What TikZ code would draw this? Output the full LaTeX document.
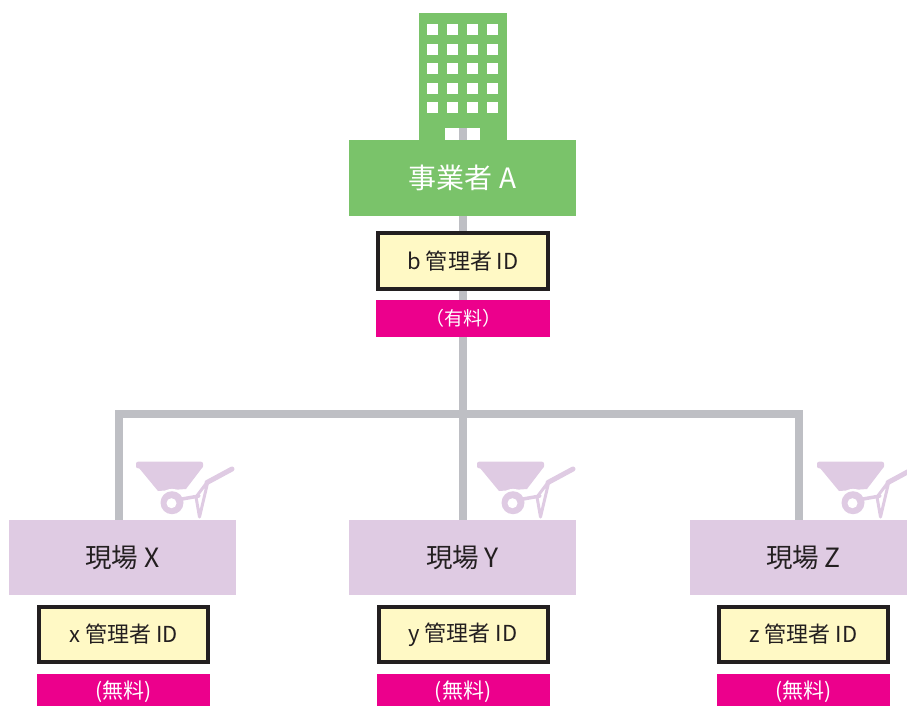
\documentclass[tikz,border=0pt]{standalone}
\usepackage{fontspec}
\setmainfont{Noto Sans CJK JP}
\definecolor{bgreen}{HTML}{7AC36A}
\definecolor{lgray}{HTML}{BEBFC4}
\definecolor{lav}{HTML}{DFCBE3}
\definecolor{idfill}{HTML}{FFF9C5}
\definecolor{pinkc}{HTML}{EC008C}
\definecolor{txt}{HTML}{231F20}
\tikzset{
  conn/.style={draw=lgray, line width=7.5pt, line join=miter},
  bizbox/.style={fill=bgreen, inner sep=0, minimum width=227pt, minimum height=76pt, text=white, font=\fontsize{28}{32}\selectfont},
  sitebox/.style={fill=lav, inner sep=0, minimum width=227pt, minimum height=75pt, text=txt, font=\fontsize{26.5}{30}\selectfont},
  idbox/.style={fill=idfill, draw=txt, line width=4pt, inner sep=0, minimum width=170pt, minimum height=56pt, text=txt, font=\fontsize{22}{26}\selectfont},
  feebox/.style={fill=pinkc, inner sep=0, minimum width=174pt, text=white},
  pics/barrow/.style={code={
    \fill[lav, rounded corners=2pt] (0,461.7) rectangle (67,468.3);
    \fill[lav] (3,468) -- (66,468) -- (50,489) -- (22,491) -- cycle;
    \fill[white] (36,502.7) circle (13.8);
    \fill[lav] (36,502.7) circle (11.5);
    \fill[white] (35.5,503.2) circle (5);
    \draw[lav, line width=3.5pt, line join=round, line cap=round] (46,499) -- (63,496);
    \draw[lav, line width=3pt, line join=round] (60,497) -- (72,481) -- (63.5,517) -- cycle;
    \draw[lav, line width=5pt, line cap=round] (71,482.5) -- (96,469);
  }}
}
\begin{document}
\begin{tikzpicture}[x=1pt, y=-1pt]
\useasboundingbox (0,0) rectangle (907,706);
% building
\fill[bgreen] (419,13) rectangle (507,141);
\foreach \cx in {427,447,467,487}{
  \foreach \cy in {24,44,63.5,83,102.5}{
    \fill[white] (\cx,\cy) rectangle ++(11,11);
  }
}
\fill[white] (445,128) rectangle (480,141);
\coordinate (door) at (463,128);
% connectors
\coordinate (J) at (463,414);
\coordinate (JX) at (119,414);
\coordinate (JZ) at (799,414);
\draw[conn] (door) -- (J) -- (463,520);
\draw[conn] (119,520) -- (JX) -- (JZ) -- (799,520);
% boxes
\node[bizbox] (A) at (462.5,178) {事業者 A};
\node[idbox] (bid) at (463,261) {b 管理者 ID};
\node[feebox, minimum height=37pt, font=\fontsize{19}{22}\selectfont] (bfee) at (463,318.5) {（有料）};
% barrows
\pic at (136,0) {barrow};
\pic at (477,0) {barrow};
\pic at (817,0) {barrow};
% sites
\node[sitebox] (X) at (122.5,557.5) {現場 X};
\node[sitebox] (Y) at (462.5,557.5) {現場 Y};
\node[sitebox] (Z) at (803.5,557.5) {現場 Z};
\node[idbox, minimum width=169pt, minimum height=55pt] (xid) at (123.5,634.5) {x 管理者 ID};
\node[idbox, minimum width=169pt, minimum height=55pt] (yid) at (463,634.5) {y 管理者 ID};
\node[idbox, minimum width=169pt, minimum height=55pt] (zid) at (803.5,634.5) {z 管理者 ID};
\node[feebox, minimum width=173pt, minimum height=36pt, font=\fontsize{21}{24}\selectfont] (xfee) at (123.5,692) {(無料)};
\node[feebox, minimum width=173pt, minimum height=36pt, font=\fontsize{21}{24}\selectfont] (yfee) at (463,692) {(無料)};
\node[feebox, minimum width=173pt, minimum height=36pt, font=\fontsize{21}{24}\selectfont] (zfee) at (803.5,692) {(無料)};
\end{tikzpicture}
\end{document}
